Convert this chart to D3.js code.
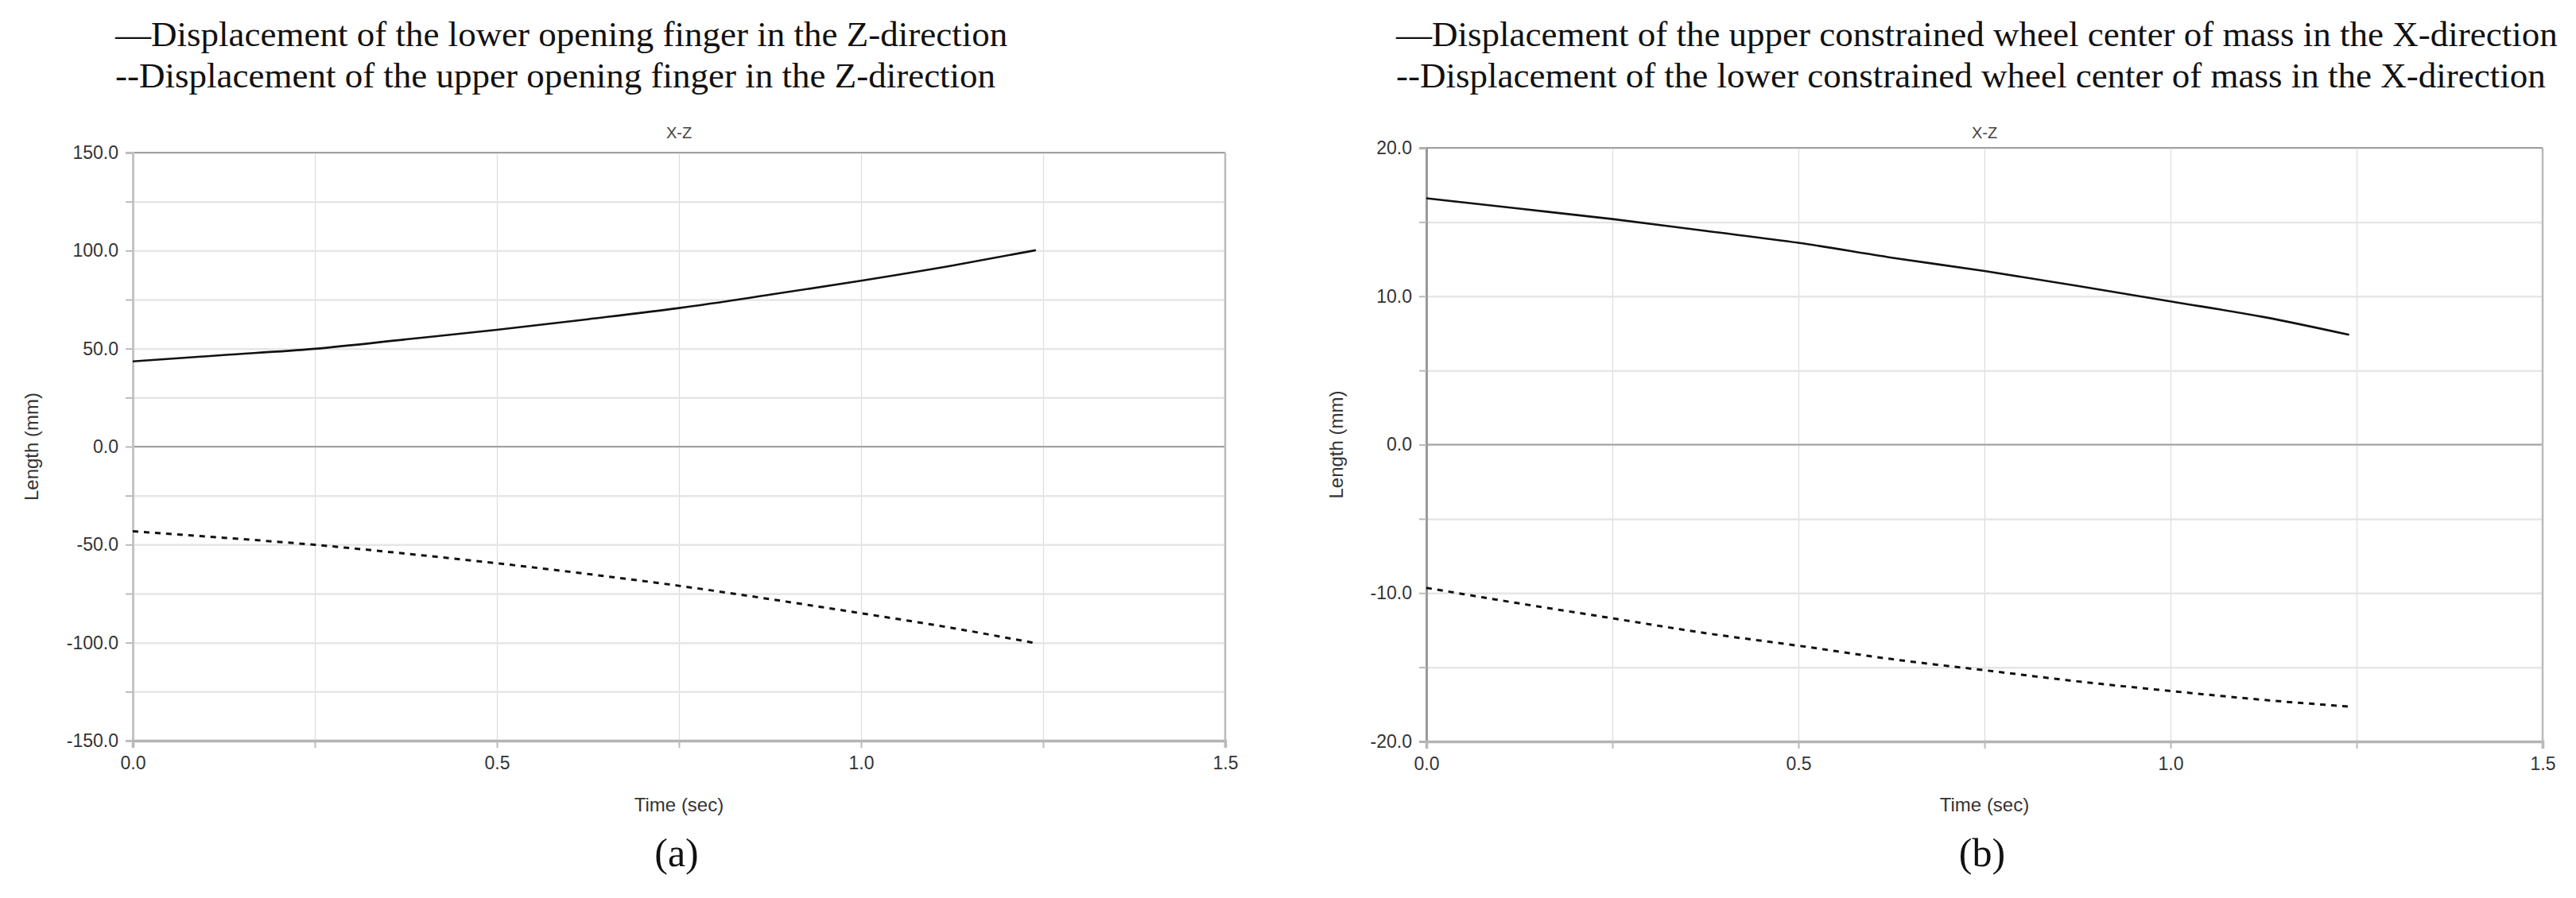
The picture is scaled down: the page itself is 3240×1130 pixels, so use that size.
<!DOCTYPE html>
<html>
<head>
<meta charset="utf-8">
<script src="https://cdn.jsdelivr.net/npm/d3@7"></script>
<style>
  body { margin: 0; background: #fff; }
  svg { display: block; }
</style>
</head>
<body>
<svg id="chart" width="3240" height="1130"></svg>
<script>
// Time samples (sec)
const timeA = [0, 0.125, 0.25, 0.375, 0.5, 0.625, 0.75, 0.875, 1.0, 1.125, 1.24];
const timeB = [0, 0.125, 0.25, 0.375, 0.5, 0.625, 0.75, 0.875, 1.0, 1.125, 1.24];

// (a) opening fingers, Z-direction (mm)
const lowerFingerZ = [43.5, 46.7, 49.9, 54.7, 59.6, 65.0, 70.7, 77.5, 84.6, 92.3, 100.2];
const upperFingerZ = [-43.2, -46.5, -50.1, -54.6, -59.5, -65.0, -71.0, -77.8, -85.0, -92.5, -100.3];

// (b) constrained wheel centre of mass, X-direction (mm)
const upperWheelX = [16.6, 15.9, 15.2, 14.4, 13.6, 12.6, 11.7, 10.7, 9.65, 8.6, 7.4];
const lowerWheelX = [-9.65, -10.7, -11.7, -12.7, -13.55, -14.45, -15.2, -15.95, -16.6, -17.2, -17.65];

// tick values
const xTicks = [0, 0.5, 1.0, 1.5];
const xMinorTicks = [0, 0.25, 0.5, 0.75, 1.0, 1.25, 1.5];
const yTicksA = [-150, -100, -50, 0, 50, 100, 150];
const yMinorA = [-150, -125, -100, -75, -50, -25, 0, 25, 50, 75, 100, 125, 150];
const yTicksB = [-20, -10, 0, 10, 20];
const yMinorB = [-20, -15, -10, -5, 0, 5, 10, 15, 20];

const legendA = ["\u2014Displacement of the lower opening finger in the Z-direction",
                 "--Displacement of the upper opening finger in the Z-direction"];
const legendB = ["\u2014Displacement of the upper constrained wheel center of mass in the X-direction",
                 "--Displacement of the lower constrained wheel center of mass in the X-direction"];

const svg = d3.select("#chart");
const sans = "'Liberation Sans', Arial, sans-serif";
const serif = "'Liberation Serif', 'Times New Roman', serif";

function drawPanel(cfg) {
    const x = d3.scaleLinear().domain([0, 1.5]).range([cfg.left, cfg.right]);
    const y = d3.scaleLinear().domain(cfg.yDomain).range([cfg.bottom, cfg.top]);
    const g = svg.append("g");

    // legend
    cfg.legend.forEach((t, i) => {
        g.append("text")
            .attr("x", cfg.legendX)
            .attr("y", 58 + i * 52)
            .attr("font-family", serif)
            .attr("font-size", 45)
            .attr("fill", "#111")
            .text(t);
    });

    // title
    g.append("text")
        .attr("x", (cfg.left + cfg.right) / 2)
        .attr("y", 174)
        .attr("text-anchor", "middle")
        .attr("font-family", sans)
        .attr("font-size", 20)
        .attr("fill", "#444")
        .text("X-Z");

    // vertical grid
    g.append("g")
        .attr("transform", `translate(0,${cfg.bottom})`)
        .call(d3.axisBottom(x).tickValues(xMinorTicks).tickSize(-(cfg.bottom - cfg.top)).tickFormat(""))
        .call(s => s.select(".domain").remove())
        .call(s => s.selectAll("line").attr("stroke", "#dcdcdc").attr("stroke-width", 1.2));

    // horizontal grid
    g.append("g")
        .attr("transform", `translate(${cfg.left},0)`)
        .call(d3.axisLeft(y).tickValues(cfg.yMinor).tickSize(-(cfg.right - cfg.left)).tickFormat(""))
        .call(s => s.select(".domain").remove())
        .call(s => s.selectAll("line").attr("stroke", "#e6e6e6").attr("stroke-width", 2.5));

    // zero line and top line
    [0, cfg.yDomain[1]].forEach(v => {
        g.append("line")
            .attr("x1", cfg.left).attr("x2", cfg.right)
            .attr("y1", y(v)).attr("y2", y(v))
            .attr("stroke", "#a0a0a0").attr("stroke-width", 2);
    });

    // y axis with small outward ticks
    const yAxis = g.append("g")
        .attr("transform", `translate(${cfg.left},0)`)
        .call(d3.axisLeft(y).tickValues(cfg.yMinor).tickSize(9).tickFormat(""));
    yAxis.select(".domain").attr("stroke", cfg.axisColor).attr("stroke-width", 3);
    yAxis.selectAll(".tick line").attr("stroke", "#bbb").attr("stroke-width", 2);

    // y tick labels
    g.append("g")
        .attr("transform", `translate(${cfg.left},0)`)
        .call(d3.axisLeft(y).tickValues(cfg.yTicks).tickSize(0).tickPadding(18).tickFormat(d3.format(".1f")))
        .call(s => s.select(".domain").remove())
        .call(s => s.selectAll("text")
            .attr("font-family", sans).attr("font-size", 23).attr("fill", "#333")
            .text(d => d3.format(".1f")(d).replace("\u2212", "-")));

    // x axis with outward ticks
    const xAxis = g.append("g")
        .attr("transform", `translate(0,${cfg.bottom})`)
        .call(d3.axisBottom(x).tickValues(xMinorTicks).tickSize(9).tickFormat(""));
    xAxis.select(".domain").attr("stroke", "#b4b4b4").attr("stroke-width", 3.5);
    xAxis.selectAll(".tick line").attr("stroke", "#bbb").attr("stroke-width", 2);

    g.append("g")
        .attr("transform", `translate(0,${cfg.bottom})`)
        .call(d3.axisBottom(x).tickValues(xTicks).tickSize(0).tickPadding(20).tickFormat(d3.format(".1f")))
        .call(s => s.select(".domain").remove())
        .call(s => s.selectAll("text")
            .attr("font-family", sans).attr("font-size", 23).attr("fill", "#333"));

    // right border
    g.append("line")
        .attr("x1", cfg.right).attr("x2", cfg.right)
        .attr("y1", cfg.top).attr("y2", cfg.bottom + 9)
        .attr("stroke", "#bbb").attr("stroke-width", 2.5);

    // axis titles
    g.append("text")
        .attr("transform", `translate(${cfg.yLabelX},${(cfg.top + cfg.bottom) / 2}) rotate(-90)`)
        .attr("text-anchor", "middle")
        .attr("dominant-baseline", "middle")
        .attr("font-family", sans).attr("font-size", 24).attr("fill", "#333")
        .text("Length (mm)");

    g.append("text")
        .attr("x", (cfg.left + cfg.right) / 2)
        .attr("y", 1021)
        .attr("text-anchor", "middle")
        .attr("font-family", sans).attr("font-size", 24).attr("fill", "#333")
        .text("Time (sec)");

    // panel caption
    g.append("text")
        .attr("x", (cfg.left + cfg.right) / 2 - 3)
        .attr("y", 1090)
        .attr("text-anchor", "middle")
        .attr("font-family", serif).attr("font-size", 50).attr("fill", "#111")
        .text(cfg.caption);

    // series
    const line = d3.line()
        .x(d => x(d[0]))
        .y(d => y(d[1]))
        .curve(d3.curveMonotoneX);

    cfg.series.forEach(s => {
        g.append("path")
            .datum(cfg.time.map((t, i) => [t, s.values[i]]))
            .attr("d", line)
            .attr("fill", "none")
            .attr("stroke", "#111")
            .attr("stroke-width", s.dashed ? 3 : 2.6)
            .attr("stroke-dasharray", s.dashed ? "7,7" : null);
    });
}

drawPanel({
    left: 167, right: 1541, top: 192, bottom: 932,
    yDomain: [-150, 150], yTicks: yTicksA, yMinor: yMinorA,
    axisColor: "#c4c4c4", yLabelX: 42, legendX: 145,
    legend: legendA, caption: "(a)", time: timeA,
    series: [
        { values: lowerFingerZ, dashed: false },
        { values: upperFingerZ, dashed: true }
    ]
});

drawPanel({
    left: 1794, right: 3198, top: 186, bottom: 933,
    yDomain: [-20, 20], yTicks: yTicksB, yMinor: yMinorB,
    axisColor: "#999", yLabelX: 1683, legendX: 1756,
    legend: legendB, caption: "(b)", time: timeB,
    series: [
        { values: upperWheelX, dashed: false },
        { values: lowerWheelX, dashed: true }
    ]
});
</script>
</body>
</html>
